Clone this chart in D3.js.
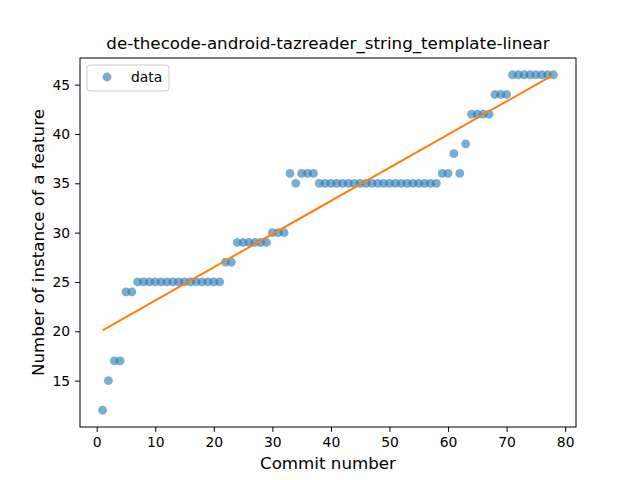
<!DOCTYPE html>
<html><head><meta charset="utf-8">
<script src="https://cdn.jsdelivr.net/npm/d3@7"></script>
<style>body{margin:0;background:#fff}text{font-family:"DejaVu Sans",sans-serif}</style>
</head><body><svg width="640" height="480"></svg>
<script>
// data
var commits = d3.range(1, 79);
var counts = [12,15,17,17,24,24,
  25,25,25,25,25,25,25,25,25,25,25,25,25,25,25,
  27,27,29,29,29,29,29,29,30,30,30,
  36,35,36,36,36,
  35,35,35,35,35,35,35,35,35,35,35,35,35,35,35,35,35,35,35,35,35,
  36,36,38,36,39,42,42,42,42,44,44,44,
  46,46,46,46,46,46,46,46];
var fitX = [1, 78];
var fitY = [20.1, 46.0];
var xTicks = [0,10,20,30,40,50,60,70,80];
var yTicks = [15,20,25,30,35,40,45];

var svg = d3.select("svg");
var L = 80, R = 576, T = 58, B = 427;
var x = d3.scaleLinear().domain([-2.85, 81.85]).range([L, R]);
var y = d3.scaleLinear().domain([10.3, 47.7]).range([B, T]);

svg.append("text").attr("x", (L+R)/2).attr("y", 49).attr("text-anchor","middle")
  .attr("font-size", 16.7).text("de-thecode-android-tazreader_string_template-linear");

svg.append("g").selectAll("circle").data(commits).enter().append("circle")
  .attr("cx", function(d){ return x(d); })
  .attr("cy", function(d, i){ return y(counts[i]); })
  .attr("r", 4.4).attr("fill", "#1f77b4").attr("fill-opacity", 0.6);

svg.append("line").attr("x1", x(fitX[0])).attr("y1", y(fitY[0]))
  .attr("x2", x(fitX[1])).attr("y2", y(fitY[1]))
  .attr("stroke", "#ff7f0e").attr("stroke-width", 2);

var gx = svg.append("g").attr("transform", "translate(0," + B + ")")
  .call(d3.axisBottom(x).tickValues(xTicks).tickSize(4.9).tickPadding(4.9));
var gy = svg.append("g").attr("transform", "translate(" + L + ",0)")
  .call(d3.axisLeft(y).tickValues(yTicks).tickSize(4.9).tickPadding(4.9));
[gx, gy].forEach(function(g){
  g.select(".domain").remove();
  g.selectAll("text").attr("font-size", 13.9).attr("fill", "#000").style("font-family", "DejaVu Sans");
  g.selectAll("line").attr("stroke", "#000");
});
svg.append("rect").attr("x", L).attr("y", T).attr("width", R-L).attr("height", B-T)
  .attr("fill", "none").attr("stroke", "#000").attr("stroke-width", 1);

svg.append("text").attr("x", (L+R)/2).attr("y", 469).attr("text-anchor","middle")
  .attr("font-size", 16.7).text("Commit number");
svg.append("text").attr("transform", "translate(44," + (T+B)/2 + ") rotate(-90)")
  .attr("text-anchor","middle").attr("font-size", 16.7).text("Number of instance of a feature");

var lg = svg.append("g");
lg.append("rect").attr("x", 87).attr("y", 65).attr("width", 82).attr("height", 26).attr("rx", 3)
  .attr("fill", "#fff").attr("fill-opacity", 0.8).attr("stroke", "#ccc");
lg.append("circle").attr("cx", 107).attr("cy", 77).attr("r", 4.4)
  .attr("fill", "#1f77b4").attr("fill-opacity", 0.6);
lg.append("text").attr("x", 131).attr("y", 82).attr("font-size", 13.9).text("data");
</script></body></html>
